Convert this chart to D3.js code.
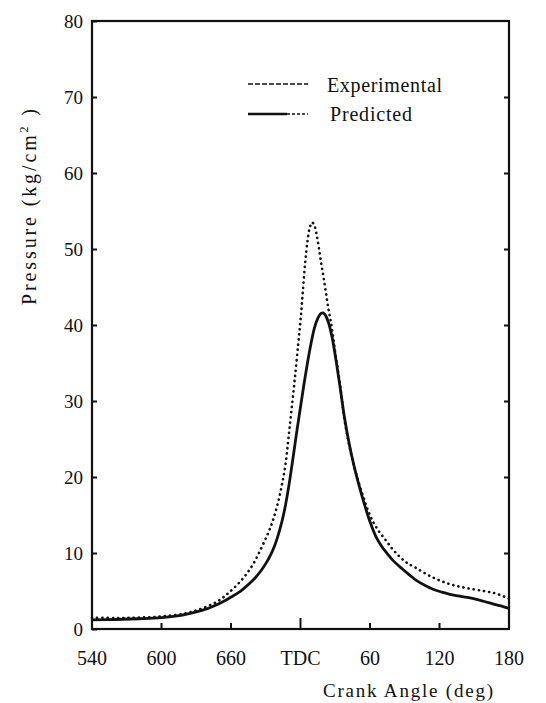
<!DOCTYPE html>
<html>
<head>
<meta charset="utf-8">
<script src="https://cdn.jsdelivr.net/npm/d3@7"></script>
<style>
  body { margin: 0; background: #fff; }
</style>
</head>
<body>
<div class="chart"></div>
<script>
// Crank angle in degrees relative to TDC (negative = before TDC, i.e. 540..720).
const predAngle = [-180, -160, -140, -120, -105, -90, -80, -70, -60, -52, -45, -39, -34, -30, -26, -22,
  -18, -14, -10, -6, -3, 0, 3, 6, 9, 12, 15, 17.5, 19.5, 21.5, 24, 27, 30, 34, 38, 42, 46, 50, 55, 60,
  65, 70, 75, 80, 88, 95, 100, 108, 115, 122, 129, 136, 144, 152, 158, 164, 170, 175, 180];
const predPressure = [1.2, 1.25, 1.35, 1.5, 1.75, 2.25, 2.7, 3.35, 4.2, 4.95, 5.85, 6.75, 7.7, 8.6, 9.7, 11.1,
  13.0, 15.5, 18.9, 23.0, 26.2, 29.2, 32.2, 35.0, 37.5, 39.6, 40.9, 41.5, 41.6, 41.3, 40.4, 38.6, 36.0, 32.0, 27.8, 24.4, 21.6, 19.2, 16.5, 14.1,
  12.2, 10.9, 9.9, 9.0, 7.9, 7.0, 6.4, 5.7, 5.2, 4.85, 4.55, 4.35, 4.15, 3.9, 3.65, 3.4, 3.15, 2.95, 2.7];

const expAngle = [-180, -160, -140, -120, -100, -87, -72, -61, -50, -41, -34, -28, -24, -20, -16, -13,
  -10.5, -8, -5, -2, 0, 2, 4, 6, 8, 10, 12, 14, 16, 18, 20, 22, 24, 26, 28, 30, 34, 38, 44, 50,
  54, 58, 63, 68, 74, 79, 85, 91, 100, 114, 129, 143, 158, 168, 180];
const expPressure = [1.5, 1.45, 1.5, 1.65, 2.05, 2.6, 3.6, 4.9, 6.6, 8.5, 10.6, 12.6, 14.2, 16.3, 19.0, 21.6,
  25.0, 28.5, 32.8, 37.5, 40.6, 44.4, 48.2, 51.0, 52.8, 53.5, 53.1, 51.8, 50.0, 48.0, 46.2, 44.2, 42.2, 40.6, 38.6, 36.4, 32.3, 27.5, 22.8, 19.4,
  17.5, 15.7, 14.0, 12.8, 11.6, 10.6, 9.6, 8.8, 8.0, 6.8, 5.9, 5.4, 5.0, 4.7, 4.0];

// Axis ticks and their labels.
const xTicks = [-180, -120, -60, 0, 60, 120, 180];
const xTickLabels = ["540", "600", "660", "TDC", "60", "120", "180"];
const yTicks = [0, 10, 20, 30, 40, 50, 60, 70, 80];

const width = 546;
const height = 703;
const plot = { left: 92, right: 509, top: 21, bottom: 629 };
const font = "'Liberation Serif', 'DejaVu Serif', serif";

const svg = d3.select(".chart")
  .append("svg")
  .attr("width", width)
  .attr("height", height)
  .attr("font-family", font)
  .style("font-family", font);

const xScale = d3.scaleLinear().domain([-180, 180]).range([plot.left, plot.right]);
const yScale = d3.scaleLinear().domain([0, 80]).range([plot.bottom, plot.top]);

// Frame around the plot.
svg.append("rect")
  .attr("x", plot.left)
  .attr("y", plot.top)
  .attr("width", plot.right - plot.left)
  .attr("height", plot.bottom - plot.top)
  .attr("fill", "none")
  .attr("stroke", "#111")
  .attr("stroke-width", 2.2);

// Left axis: inward ticks, labels on the outside.
svg.append("g")
  .attr("transform", `translate(${plot.left},0)`)
  .call(d3.axisRight(yScale).tickValues(yTicks).tickSize(5).tickFormat(""))
  .call(g => g.select(".domain").remove())
  .call(g => g.selectAll("line").attr("stroke", "#111").attr("stroke-width", 2));

svg.append("g")
  .selectAll("text")
  .data(yTicks)
  .join("text")
  .attr("x", plot.left - 9)
  .attr("y", d => yScale(d))
  .attr("dy", "0.35em")
  .attr("text-anchor", "end")
  .attr("font-size", 19)
  .attr("fill", "#111")
  .text(d => d);

// Right axis ticks, pointing in.
svg.append("g")
  .attr("transform", `translate(${plot.right},0)`)
  .call(d3.axisLeft(yScale).tickValues(yTicks.slice(1, -1)).tickSize(5).tickFormat(""))
  .call(g => g.select(".domain").remove())
  .call(g => g.selectAll("line").attr("stroke", "#111").attr("stroke-width", 2));

// Bottom axis: upward ticks, the TDC one longer.
svg.append("g")
  .selectAll("line")
  .data(xTicks)
  .join("line")
  .attr("x1", d => xScale(d))
  .attr("x2", d => xScale(d))
  .attr("y1", plot.bottom)
  .attr("y2", d => plot.bottom - (d === 0 ? 11 : 6))
  .attr("stroke", "#111")
  .attr("stroke-width", 2);

svg.append("g")
  .selectAll("text")
  .data(xTicks)
  .join("text")
  .attr("x", d => xScale(d))
  .attr("y", 665)
  .attr("text-anchor", "middle")
  .attr("font-size", 20)
  .attr("fill", "#111")
  .text((d, i) => xTickLabels[i]);

// Axis titles.
svg.append("text")
  .attr("x", 323)
  .attr("y", 697)
  .attr("font-size", 19)
  .attr("fill", "#111")
  .attr("textLength", 170)
  .attr("lengthAdjust", "spacing")
  .text("Crank Angle (deg)");

const yTitle = svg.append("text")
  .attr("transform", "translate(36,207) rotate(-90)")
  .attr("text-anchor", "middle")
  .attr("font-size", 20)
  .attr("fill", "#111")
  .attr("textLength", 196)
  .attr("lengthAdjust", "spacing");
yTitle.append("tspan").text("Pressure (kg/cm");
yTitle.append("tspan").attr("dy", -8).attr("font-size", 12).text("2");
yTitle.append("tspan").attr("dy", 8).text(" )");

// Curves.
const line = d3.line()
  .x(d => xScale(d[0]))
  .y(d => yScale(d[1]))
  .curve(d3.curveCatmullRom.alpha(0.5));

const expData = d3.zip(expAngle, expPressure);
const predData = d3.zip(predAngle, predPressure);

svg.append("path")
  .datum(expData)
  .attr("d", line)
  .attr("fill", "none")
  .attr("stroke", "#111")
  .attr("stroke-width", 2.6)
  .attr("stroke-linecap", "round")
  .attr("stroke-dasharray", "0.2,5");

svg.append("path")
  .datum(predData)
  .attr("d", line)
  .attr("fill", "none")
  .attr("stroke", "#111")
  .attr("stroke-width", 2.8);

// Legend.
const legend = svg.append("g");
legend.append("line")
  .attr("x1", 248).attr("x2", 308)
  .attr("y1", 84).attr("y2", 84)
  .attr("stroke", "#111")
  .attr("stroke-width", 1.3)
  .attr("stroke-dasharray", "5,2");
legend.append("text")
  .attr("x", 327).attr("y", 92)
  .attr("font-size", 20)
  .attr("fill", "#111")
  .attr("textLength", 115)
  .attr("lengthAdjust", "spacing")
  .text("Experimental");

legend.append("line")
  .attr("x1", 248).attr("x2", 287)
  .attr("y1", 114).attr("y2", 114)
  .attr("stroke", "#111")
  .attr("stroke-width", 2.5);
legend.append("line")
  .attr("x1", 287).attr("x2", 308)
  .attr("y1", 114).attr("y2", 114)
  .attr("stroke", "#111")
  .attr("stroke-width", 1.3)
  .attr("stroke-dasharray", "3,2");
legend.append("text")
  .attr("x", 330).attr("y", 121)
  .attr("font-size", 20)
  .attr("fill", "#111")
  .attr("textLength", 82)
  .attr("lengthAdjust", "spacing")
  .text("Predicted");
</script>
</body>
</html>
